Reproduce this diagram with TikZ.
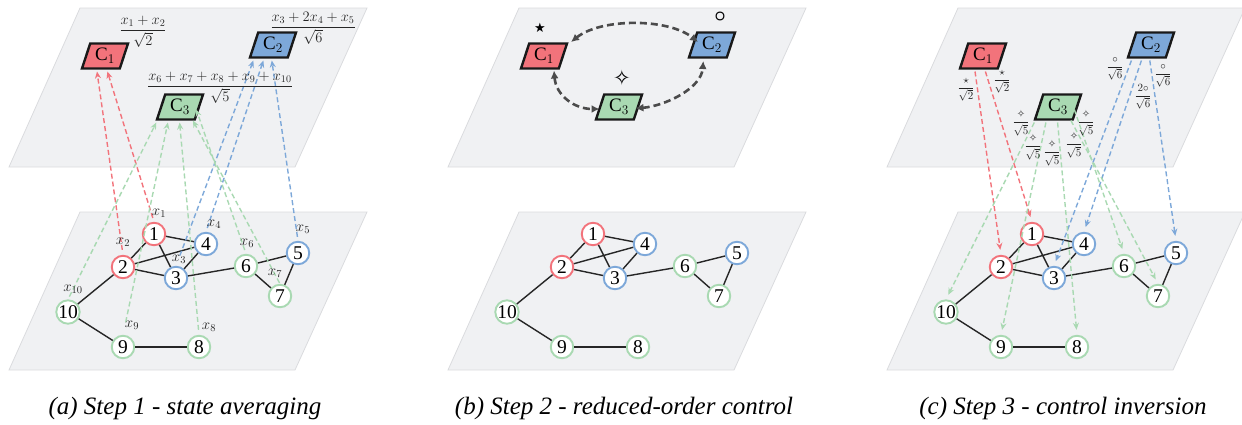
\RequirePackage{fix-cm}
\documentclass[tikz,border=0pt]{standalone}
\usepackage{amsmath}
\usepackage{fontspec}
\setmainfont{Liberation Serif}
\newfontfamily\dejavu{DejaVu Sans}
\usetikzlibrary{shapes.geometric,arrows.meta}
\definecolor{my red}{HTML}{F2737B}
\definecolor{my blue}{HTML}{7DA8D9}
\definecolor{my green}{HTML}{A9D9B2}
\definecolor{my dark}{HTML}{4B4B4B}
\definecolor{plane fill}{HTML}{F0F1F3}
\definecolor{plane line}{HTML}{DADBDE}
\newcommand\spark[1]{\mbox{\fontsize{#1}{#1}\dejavu ✧}}

\tikzset{
  plane/.style={fill=plane fill, draw=plane line, line width=0.8pt},
  agent/.style={circle, draw=#1, fill=white, line width=1.9pt, minimum size=22.5pt, inner sep=0pt, font=\fontsize{19.5}{19.5}\selectfont},
  link/.style={line width=1.4pt, black!85},
  cluster/.style={trapezium, trapezium left angle=62, trapezium right angle=118, trapezium stretches body, minimum height=25pt, minimum width=46pt, inner sep=0pt, fill=#1, draw=black!90, line width=2.4pt, font=\fontsize{19}{19}\selectfont},
  proj/.style={draw=#1, line width=1.4pt, dash pattern=on 5pt off 3pt, -{Stealth[length=7pt,width=6pt]}},
  talk/.style={draw=my dark, line width=2.6pt, dash pattern=on 7pt off 4pt, {Latex[length=8pt,width=8pt]}-{Latex[length=8pt,width=8pt]}},
  state tag/.style={inner sep=0pt, text=black!85, font=\fontsize{15}{15}\selectfont},
  sum/.style={inner sep=0pt, text=black!85, font=\fontsize{14.5}{16}\selectfont},
  weight/.style={inner sep=0pt, text=black!85, font=\fontsize{11}{11}\selectfont},
  caption/.style={font=\fontsize{25}{28}\selectfont\itshape},
}

\newcommand\twolayers{
  \draw[plane] (80,8) -- (367,8) -- (295,167) -- (9,167) -- cycle;
  \draw[plane] (80,212) -- (367,212) -- (295,370) -- (9,370) -- cycle;
  \foreach \i/\c/\x/\y in {1/my red/154/234, 2/my red/123/267, 3/my blue/176/278, 4/my blue/206/244, 5/my blue/298/253, 6/my green/246/266, 7/my green/280/296, 8/my green/199/347, 9/my green/123/347, 10/my green/68/312}
    \node[agent=\c] (n\i) at (\x,\y) {\i};
  \foreach \a/\b in {1/2, 1/3, 1/4, 2/3, 2/4, 3/4, 3/6, 5/6, 5/7, 6/7, 2/10, 9/10, 8/9}
    \draw[link] (n\a) -- (n\b);
  \node[cluster=my red] (C1) at (105,56) {C$_1$};
  \node[cluster=my blue] (C2) at (273,45) {C$_2$};
  \node[cluster=my green] (C3) at (180,107) {C$_3$};
  \foreach \i/\k/\dx/\dy in {1/1/2.4/15.5, 2/1/-8/15.5, 3/2/-19.6/15.5, 4/2/-9.6/15.5, 5/2/-1.2/15.5, 6/3/16.3/2.5, 7/3/12.9/13.5, 8/3/-0.4/15.5, 9/3/-12.1/15.5, 10/3/-23.7/15.5}
    \coordinate (q\i) at ([shift={(\dx,\dy)}]C\k.center);
}

\begin{document}
\begin{tikzpicture}[x=1pt, y=-1pt]
  \useasboundingbox (0,0) rectangle (1242,424);
  \begin{scope}[name prefix=a-]
    \twolayers
    \foreach \i/\c/\s in {1/my red/4, 2/my red/5, 3/my blue/11, 4/my blue/4, 5/my blue/4, 6/my green/4, 7/my green/1, 8/my green/5, 9/my green/13, 10/my green/3}
      \draw[proj=\c, shorten <=\s pt] (n\i.north) -- (q\i);
    \foreach \i/\dx/\dy in {1/5/-21, 2/0/-25, 3/3/-19, 4/8/-20, 5/5/-24, 6/1/-23, 7/-5/-23, 8/10/-20, 9/9/-22, 10/5/-23}
      \node[state tag] (x\i) at ([shift={(\dx,\dy)}]n\i) {$x_{\i}$};
    \node[sum] (f1) at (143,32) {$\dfrac{x_1+x_2}{\sqrt{2}}$};
    \node[sum] (f2) at (313,28) {$\dfrac{x_3+2x_4+x_5}{\sqrt{6}}$};
    \node[sum] (f3) at (220,88) {$\dfrac{x_6+x_7+x_8+x_9+x_{10}}{\sqrt{5}}$};
    \node[caption] (cap) at (185,408) {(a) Step 1 - state averaging};
  \end{scope}
  \begin{scope}[xshift=439pt, name prefix=b-]
    \twolayers
    \coordinate (r12) at ([shift={(27,-14)}]C1.center);
    \coordinate (r21) at ([shift={(-14,-3)}]C2.center);
    \coordinate (r13) at ([shift={(10,14.5)}]C1.center);
    \coordinate (r31) at ([shift={(-19.5,2)}]C3.center);
    \coordinate (r32) at ([shift={(16.5,1.3)}]C3.center);
    \coordinate (r23) at ([shift={(-8.7,16)}]C2.center);
    \draw[talk] (r12) .. controls +(30,-24) and +(-30,-24) .. (r21);
    \draw[talk] (r13) .. controls +(2,25) and +(-25,0) .. (r31);
    \draw[talk] (r32) .. controls +(28,-2) and +(-2,28) .. (r23);
    \node[font=\fontsize{13}{13}\dejavu] (s1) at (101,28) {★};
    \node[font=\fontsize{20}{20}\selectfont] (s2) at (281,17) {$\boldsymbol{\circ}$};
    \node (s3) at (183,78) {\spark{21}};
    \node[caption] (cap) at (185,408) {(b) Step 2 - reduced-order control};
  \end{scope}
  \begin{scope}[xshift=878pt, name prefix=c-]
    \twolayers
    \foreach \i/\c in {1/my red, 2/my red, 3/my blue, 4/my blue, 5/my blue, 6/my green, 7/my green, 8/my green, 9/my green, 10/my green}
      \draw[proj=\c, shorten >=5pt] (q\i) -- (n\i.north);
    \foreach \i/\x/\y/\w/\r in {2/88/89.5/\star/2, 1/124/82/\star/2, 3/237/69/\circ/6, 4/265/97/2\circ/6, 5/285/76/\circ/6, 10/143/123/\spark{10}/5, 9/155/147/\spark{10}/5, 8/174/153/\spark{10}/5, 7/196/145/\spark{10}/5, 6/208/123/\spark{10}/5}
      \node[weight] (w\i) at (\x,\y) {$\dfrac{\w}{\sqrt{\r}}$};
    \node[caption] (cap) at (185,408) {(c) Step 3 - control inversion};
  \end{scope}
\end{tikzpicture}
\end{document}
